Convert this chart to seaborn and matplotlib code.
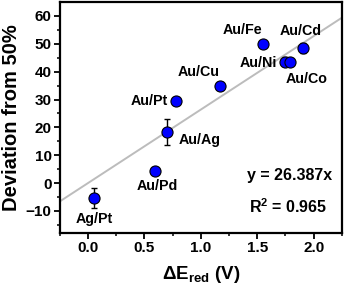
"""
Deviation from 50% vs. reduction potential difference for bimetallic pairs.
"""

import matplotlib
matplotlib.use("Agg")
import matplotlib.pyplot as plt
import numpy as np
import pandas as pd
import seaborn as sns

pairs = ["Ag/Pt", "Au/Pd", "Au/Ag", "Au/Pt", "Au/Cu", "Au/Fe", "Au/Ni", "Au/Co", "Au/Cd"]
delta_e = [0.05, 0.59, 0.70, 0.78, 1.17, 1.55, 1.75, 1.79, 1.91]
deviation = [-5.3, 4.2, 18.2, 29.6, 35.0, 50.0, 43.6, 43.5, 48.4]
error = [3.5, 1.0, 4.7, 1.0, 1.2, 0.0, 1.5, 1.0, 1.8]
slope = 26.387
r_squared = 0.965

# label offsets in points (dx, dy) relative to each marker
label_offsets = {
    "Ag/Pt": (0.7, -15), "Au/Pd": (1.7, -10.3), "Au/Ag": (23.7, -5.3),
    "Au/Pt": (-19.4, 0), "Au/Cu": (-15.6, 10), "Au/Fe": (-14.9, 10.3),
    "Au/Ni": (-19.6, -1.2), "Au/Co": (11.7, -12.2), "Au/Cd": (-2.2, 12.5),
}

df = pd.DataFrame({"pair": pairs, "dE": delta_e, "dev": deviation, "err": error})

sns.set_theme(style="ticks")
plt.rcParams["font.family"] = ["Liberation Sans", "DejaVu Sans"]
plt.rcParams["font.weight"] = "bold"
plt.rcParams["text.color"] = "black"
plt.rcParams["axes.labelcolor"] = "black"
plt.rcParams["mathtext.fontset"] = "custom"
plt.rcParams["mathtext.rm"] = "Liberation Sans:bold"
plt.rcParams["mathtext.bf"] = "Liberation Sans:bold"
plt.rcParams["mathtext.it"] = "Liberation Sans:bold"

fig = plt.figure(figsize=(3.46, 2.94), dpi=100)
ax = fig.add_axes([0.173, 0.207, 0.815, 0.786])

ax.axline((0, 0), slope=slope, color="#bcbcbc", lw=1.4, zorder=1)
ax.errorbar(df["dE"], df["dev"], yerr=df["err"], fmt="none", ecolor="black",
            elinewidth=1, capsize=2.5, capthick=1, zorder=2)
sns.scatterplot(data=df, x="dE", y="dev", ax=ax, color="#0000ff", edgecolor="black",
                linewidth=0.8, s=64, zorder=3, legend=False)

for p, x, y in zip(pairs, delta_e, deviation):
    dx, dy = label_offsets[p]
    ax.annotate(p, (x, y), xytext=(dx, dy), textcoords="offset points",
                ha="center", va="center", fontsize=10.3, fontweight="bold")

ax.text(0.665, 0.25, f"y = {slope}x", transform=ax.transAxes, fontsize=11.5,
        fontweight="bold", va="center", ha="left")
ax.text(0.67, 0.115, f"R$^2$ = {r_squared}", transform=ax.transAxes, fontsize=11.5,
        fontweight="bold", va="center", ha="left")

ax.set_xlim(-0.25, 2.25)
ax.set_ylim(-18, 65)
ax.set_xticks(np.arange(0, 2.01, 0.5))
ax.set_yticks(np.arange(-10, 61, 10))
ax.set_xticks(np.arange(-0.25, 2.26, 0.25), minor=True)
ax.set_yticks(np.arange(-15, 65, 5), minor=True)
ax.xaxis.set_major_formatter(matplotlib.ticker.FormatStrFormatter("%.1f"))

ax.set_xlabel(r"$\Delta$E$_{\mathregular{red}}$ (V)", fontsize=13.5, fontweight="bold", labelpad=6)
ax.set_ylabel("Deviation from 50%", fontsize=14.5, fontweight="bold", labelpad=3)

for s in ax.spines.values():
    s.set_linewidth(1.6)
    s.set_color("black")
ax.tick_params(axis="both", which="major", direction="out", length=4, width=1.3,
               labelsize=11, colors="black", pad=2)
ax.tick_params(axis="both", which="minor", direction="out", length=2.5, width=1.1,
               colors="black")
for lab in ax.get_xticklabels() + ax.get_yticklabels():
    lab.set_fontweight("bold")

fig.savefig("out.png", dpi=100)
